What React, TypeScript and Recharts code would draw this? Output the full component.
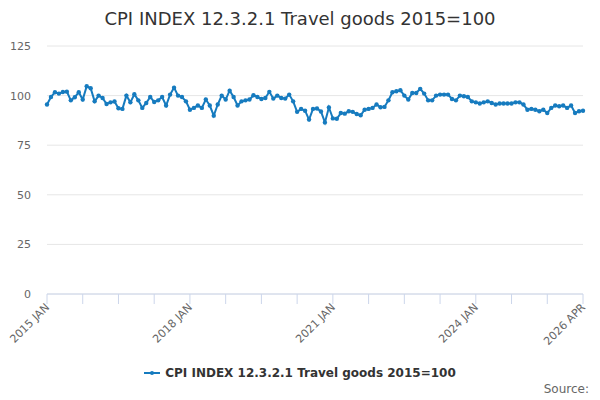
import React from "react";
import { CartesianGrid, Line, LineChart, XAxis, YAxis } from "recharts";

const MONTHS = ["JAN", "FEB", "MAR", "APR", "MAY", "JUN", "JUL", "AUG", "SEP", "OCT", "NOV", "DEC"];

// index values, one array per year
const v2015 = [95.5, 99.3, 101.7, 101, 101.8, 102, 97.6, 99.2, 101.7, 98, 104.7, 103.7];
const v2016 = [97.1, 100, 98.8, 95.8, 96.6, 97, 93.6, 93.3, 100, 96.6, 100.7, 97.6];
const v2017 = [93.8, 96.3, 99.3, 96.8, 97.6, 99.3, 95, 100.5, 104, 100, 99.3, 97.1];
const v2018 = [92.9, 93.8, 95, 93.8, 98, 95, 89.9, 95.5, 100, 98, 102.5, 99.3];
const v2019 = [95, 97.1, 97.6, 98, 100.2, 99.3, 98.3, 98.8, 101.9, 98.5, 100, 98.8];
const v2020 = [98.5, 100.5, 97.1, 91.8, 93.3, 92.4, 87.9, 93.3, 93.5, 92, 86.5, 94];
const v2021 = [88.5, 88.3, 91.2, 90.9, 92.1, 91.8, 90.7, 90.1, 92.9, 93.3, 93.8, 95.5];
const v2022 = [94.1, 94.3, 97.6, 101.7, 102.2, 102.7, 100, 98, 101.3, 101.3, 103.4, 101];
const v2023 = [97.6, 97.6, 100, 100.5, 100.5, 100.5, 98.3, 97.6, 100, 99.7, 99.3, 97.1];
const v2024 = [96.6, 96, 96.6, 97.1, 96.3, 95.5, 96, 96, 96, 96, 96.6, 96.6];
const v2025 = [95.5, 92.9, 93.3, 92.9, 92.1, 92.9, 91.2, 93.8, 95, 94.6, 95, 93.8];
const v2026 = [95, 91.2, 92.1, 92.4];

const yearly = [v2015, v2016, v2017, v2018, v2019, v2020, v2021, v2022, v2023, v2024, v2025, v2026];
const startYear = 2015;

const yTicks = [0, 25, 50, 75, 100, 125];
const tickLabels = ["2015 JAN", "2018 JAN", "2021 JAN", "2024 JAN", "2026 APR"];

const SERIES = "CPI INDEX 12.3.2.1 Travel goods 2015=100";
const BLUE = "#167bbf";
const FONT = "'DejaVu Sans', sans-serif";

const data = yearly.flatMap((vals, yi) =>
  vals.map((value, mi) => ({ label: `${startYear + yi} ${MONTHS[mi]}`, value }))
).map((d, idx) => ({ ...d, idx }));

const lastIdx = data.length - 1;
const xTicks = data.filter((d) => d.idx % 9 === 0).map((d) => d.idx);

const RotatedTick = (props: any) => {
  const { x, y, payload } = props;
  const label = data[payload.value]?.label;
  if (!label || !tickLabels.includes(label)) return null;
  return (
    <g transform={`translate(${x + 3},${y})`}>
      <text
        x={0}
        y={0}
        textAnchor="end"
        transform="rotate(-45)"
        fill="#666666"
        fontSize={11}
        fontFamily={FONT}
      >
        {label}
      </text>
    </g>
  );
};

export default function App() {
  return (
    <div style={{ position: "absolute", left: 0, top: 0, width: 600, height: 400, background: "#fff" }}>
      <div
        style={{
          position: "absolute",
          top: 8,
          left: 0,
          width: 600,
          textAlign: "center",
          fontFamily: FONT,
          fontSize: 18,
          color: "#333333",
        }}
      >
        {SERIES}
      </div>
      <LineChart width={600} height={400} margin={{ top: 46, right: 17, bottom: 46, left: 0 }} data={data}>
        <CartesianGrid vertical={false} stroke="#e6e6e6" />
        <XAxis
          dataKey="idx"
          type="number"
          domain={[0, lastIdx]}
          ticks={xTicks}
          interval={0}
          height={60}
          tickSize={10}
          tickMargin={4}
          axisLine={{ stroke: "#ccd6eb" }}
          tickLine={{ stroke: "#ccd6eb" }}
          tick={<RotatedTick />}
        />
        <YAxis
          domain={[0, 125]}
          ticks={yTicks}
          width={47}
          axisLine={false}
          tickLine={false}
          tickMargin={10}
          tick={{ fill: "#666666", fontSize: 11, fontFamily: FONT }}
        />
        <Line
          type="linear"
          dataKey="value"
          stroke={BLUE}
          strokeWidth={2}
          dot={{ r: 2.2, fill: BLUE, stroke: "none" }}
          isAnimationActive={false}
        />
      </LineChart>
      <div
        style={{
          position: "absolute",
          top: 366,
          left: 0,
          width: 600,
          display: "flex",
          justifyContent: "center",
          alignItems: "center",
          fontFamily: FONT,
          fontSize: 12,
          fontWeight: "bold",
          color: "#333333",
        }}
      >
        <svg width={16} height={10} style={{ marginRight: 5 }}>
          <line x1={0} y1={5} x2={16} y2={5} stroke={BLUE} strokeWidth={2} />
          <circle cx={8} cy={5} r={2} fill={BLUE} />
        </svg>
        {SERIES}
      </div>
      <div
        style={{
          position: "absolute",
          top: 382,
          right: 11,
          fontFamily: FONT,
          fontSize: 12,
          color: "#666666",
        }}
      >
        Source:
      </div>
    </div>
  );
}
